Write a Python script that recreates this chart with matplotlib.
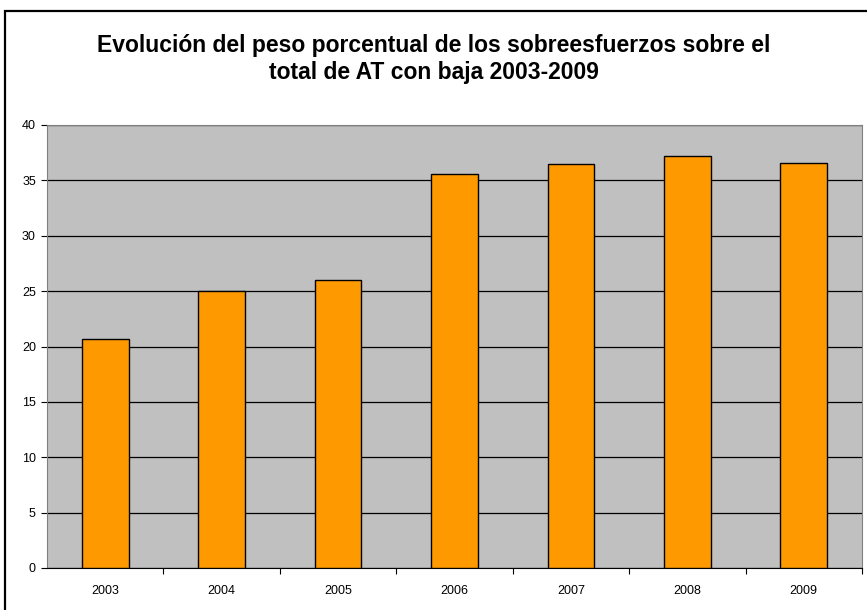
import matplotlib.pyplot as plt
from matplotlib.patches import Rectangle

# peso porcentual de sobreesfuerzos sobre total de AT con baja
anios = ["2003", "2004", "2005", "2006", "2007", "2008", "2009"]
porcentaje = [20.7, 25.0, 26.0, 35.6, 36.5, 37.2, 36.6]
ticks_y = [0, 5, 10, 15, 20, 25, 30, 35, 40]

plt.rcParams["font.family"] = ["Liberation Sans", "DejaVu Sans"]

fig = plt.figure(figsize=(8.67, 6.10), dpi=100)
fig.patch.set_facecolor("white")

# marco exterior del grafico
W, H = 867, 610
fig.patches.append(Rectangle(
    (5 / W, -0.05), 1.1, 1 - 11 / H + 0.05,
    transform=fig.transFigure, fill=False,
    edgecolor="black", linewidth=1.6
))

ax = fig.add_axes([47 / W, 1 - 568 / H, (862 - 47) / W, (568 - 125) / H])
ax.set_facecolor("#c0c0c0")

x = range(len(anios))
ax.bar(x, porcentaje, width=0.4, color="#ff9900",
       edgecolor="black", linewidth=1.0, zorder=3)

ax.set_xlim(-0.5, len(anios) - 0.5)
ax.set_ylim(0, 40)
ax.set_yticks(ticks_y)
ax.set_xticks([i + 0.5 for i in x], minor=False)
ax.set_xticklabels([])
ax.set_xticks(list(x), minor=True)
ax.set_xticklabels(anios, minor=True)
ax.tick_params(axis="x", which="minor", length=0, pad=12, labelsize=9)
ax.tick_params(axis="x", which="major", length=4, direction="out", color="black")
ax.tick_params(axis="y", length=4, direction="out", pad=4, labelsize=9)

ax.grid(axis="y", color="black", linewidth=0.9, zorder=1)
ax.set_axisbelow(True)

for lado in ["top", "right"]:
    ax.spines[lado].set_color("#808080")
ax.spines["left"].set_color("#808080")
ax.spines["bottom"].set_color("black")

fig.text(0.5, 1 - 59 / H,
         "Evolución del peso porcentual de los sobreesfuerzos sobre el\n"
         "total de AT con baja 2003-2009",
         ha="center", va="center", fontsize=16.5, fontweight="bold",
         linespacing=1.2)

fig.savefig("out.png", dpi=100)
